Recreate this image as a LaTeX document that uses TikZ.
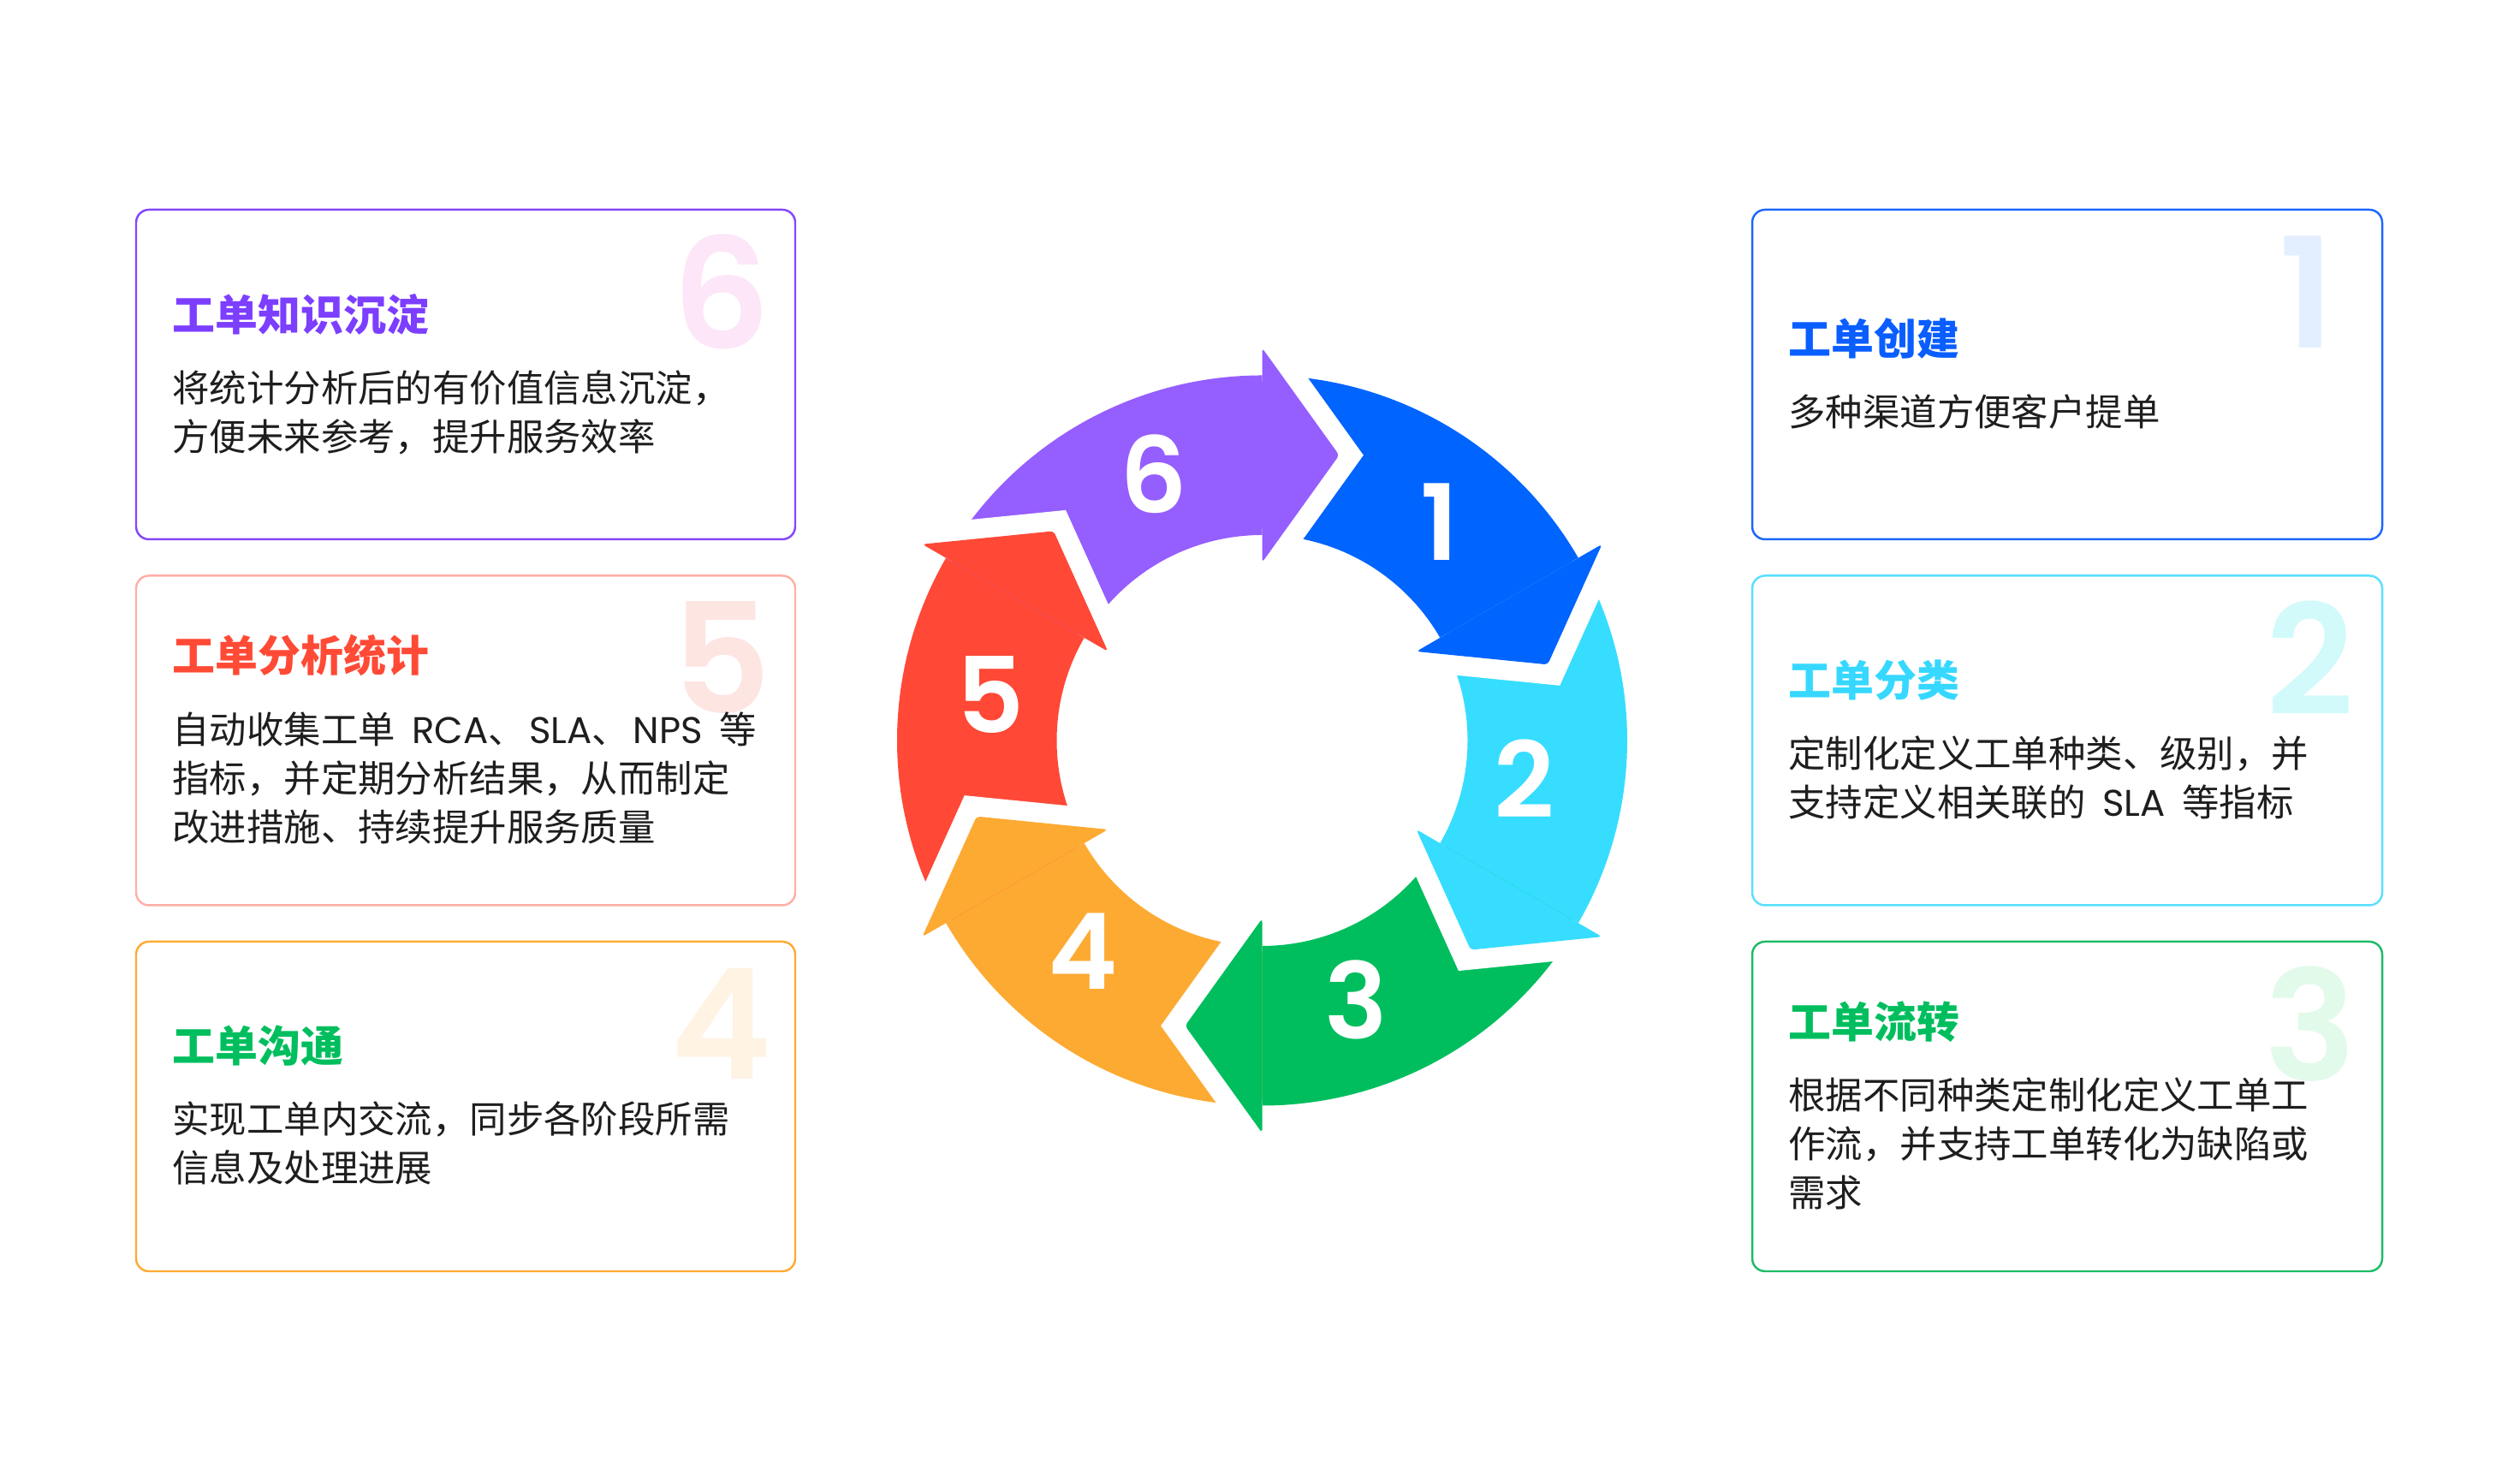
\documentclass[tikz,border=0pt]{standalone}
\usepackage{fontspec}
\setmainfont{Noto Sans CJK SC}
\newfontfamily\numfont{Poppins}[BoldFont=* SemiBold]
\newfontfamily\latinfont{Poppins}
\usetikzlibrary{positioning}

% cores do anel
\definecolor{ringblue}{HTML}{0064FF}
\definecolor{ringcyan}{HTML}{36DDFF}
\definecolor{ringgreen}{HTML}{00BE5E}
\definecolor{ringorange}{HTML}{FDAA33}
\definecolor{ringred}{HTML}{FF4836}
\definecolor{ringpurple}{HTML}{955EFF}
% cores das caixas
\definecolor{line1}{HTML}{1B67FF}
\definecolor{line2}{HTML}{5ADFFF}
\definecolor{line3}{HTML}{1DBB66}
\definecolor{line4}{HTML}{FFAA33}
\definecolor{line5}{HTML}{FFAFA6}
\definecolor{line6}{HTML}{8446FF}
\definecolor{title1}{HTML}{0A5EFF}
\definecolor{title2}{HTML}{36D8FF}
\definecolor{title3}{HTML}{00BE5E}
\definecolor{title5}{HTML}{FF4A36}
\definecolor{title6}{HTML}{7C3EFF}
\definecolor{fade1}{HTML}{E3EFFF}
\definecolor{fade2}{HTML}{D2FAFA}
\definecolor{fade3}{HTML}{E2FAEA}
\definecolor{fade4}{HTML}{FFF3E4}
\definecolor{fade5}{HTML}{FDE5E2}
\definecolor{fade6}{HTML}{FCE6F7}
\definecolor{bodytext}{HTML}{1E1E1E}

\newcommand{\lat}[1]{\hspace{0.45em}{\latinfont #1}}
\newcommand{\sep}{、\hspace{0.1em}}

\begin{document}
\begin{tikzpicture}
  [box/.style={draw, rounded corners=0.15cm, line width=0.7pt,
     minimum width=7.7cm, minimum height=3.85cm},
   head/.style={anchor=west, inner sep=0pt,
     font=\fontsize{14.2}{16.2}\selectfont\bfseries},
   info/.style={anchor=north west, align=left, inner sep=0pt, text=bodytext,
     font=\fontsize{12.35}{16.2}\selectfont},
   bignum/.style={inner sep=0pt, font=\numfont\bfseries\fontsize{51}{51}\selectfont},
   ringnum/.style={inner sep=0pt, text=white,
     font=\numfont\bfseries\fontsize{35}{35}\selectfont}]

  \useasboundingbox (0,0) rectangle (29.44,17.30);

  % Anel central: corpos das setas
  \coordinate (c) at (14.745,8.65);
  \foreach \a/\col in {30/ringblue, -30/ringcyan, -90/ringgreen,
      -150/ringorange, 150/ringred, 90/ringpurple} {
    \fill[\col, shift={(c)}, rotate=\a] (-1:2.40) -- (-1:4.265)
      arc[start angle=-1, end angle=60, radius=4.265] -- (60:2.40)
      arc[start angle=60, end angle=-1, radius=2.40] -- cycle;
  }

  % Anel central: pontas das setas e numeros
  \foreach \a/\col/\la/\lr [count=\i] in {30/ringblue/50.6/3.27,
      -30/ringcyan/-8.9/3.10, -90/ringgreen/-70.2/3.25,
      -150/ringorange/-130/3.25, 150/ringred/171/3.21, 90/ringpurple/112.4/3.33} {
    \begin{scope}[shift={(c)}, rotate=\a]
      \clip (-6,0) rectangle (6,-6);
      \draw[white, line width=0.46cm, line join=miter]
        (2.08,0) -- (3.3325,-0.90) -- (4.585,0);
      \fill[\col, rounded corners=0.04cm]
        (2.08,0) -- (3.3325,-0.90) -- (4.585,0) -- cycle;
    \end{scope}
    \node[ringnum] (n\i) at ([shift={(\la:\lr)}, yshift=0.03cm]c) {\i};
  }

  % Caixas da esquerda
  \node[box, draw=line6] (box6) at (5.44,12.925) {};
  \node[box, draw=line5] (box5) at (5.44,8.65) {};
  \node[box, draw=line4] (box4) at (5.44,4.375) {};

  % Caixas da direita
  \node[box, draw=line1, minimum width=7.36cm] (box1) at (24.15,12.925) {};
  \node[box, draw=line2, minimum width=7.36cm] (box2) at (24.15,8.65) {};
  \node[box, draw=line3, minimum width=7.36cm] (box3) at (24.15,4.375) {};

  % Numeros de fundo
  \node[bignum, text=fade6] (big6) at ([xshift=-0.87cm, yshift=-0.97cm]box6.north east) {6};
  \node[bignum, text=fade5] (big5) at ([xshift=-0.87cm, yshift=-0.97cm]box5.north east) {5};
  \node[bignum, text=fade4] (big4) at ([xshift=-0.87cm, yshift=-0.97cm]box4.north east) {4};
  \node[bignum, text=fade1] (big1) at ([xshift=-0.89cm, yshift=-0.97cm]box1.north east) {1};
  \node[bignum, text=fade2] (big2) at ([xshift=-0.85cm, yshift=-0.97cm]box2.north east) {2};
  \node[bignum, text=fade3] (big3) at ([xshift=-0.85cm, yshift=-0.97cm]box3.north east) {3};

  % Titulos
  \node[head, text=title6] (head6) at ([xshift=0.43cm, yshift=0.705cm]box6.west) {工单知识沉淀};
  \node[head, text=title5] (head5) at ([xshift=0.43cm, yshift=0.99cm]box5.west) {工单分析统计};
  \node[head, text=title3] (head4) at ([xshift=0.43cm, yshift=0.705cm]box4.west) {工单沟通};
  \node[head, text=title1] (head1) at ([xshift=0.43cm, yshift=0.42cm]box1.west) {工单创建};
  \node[head, text=title2] (head2) at ([xshift=0.43cm, yshift=0.705cm]box2.west) {工单分类};
  \node[head, text=title3] (head3) at ([xshift=0.43cm, yshift=0.99cm]box3.west) {工单流转};

  % Textos da esquerda
  \node[info, below=0.4cm of head6.south west, anchor=north west] (txt6)
    {将统计分析后的有价值信息沉淀，\\方便未来参考，提升服务效率};
  \node[info, below=0.4cm of head5.south west, anchor=north west] (txt5)
    {自动收集工单\lat{RCA}\sep{\latinfont SLA}\sep{\latinfont NPS}\hspace{0.45em}等\\指标，并定期分析结果，从而制定\\改进措施、持续提升服务质量};
  \node[info, below=0.4cm of head4.south west, anchor=north west] (txt4)
    {实现工单内交流，同步各阶段所需\\信息及处理进展};

  % Textos da direita
  \node[info, below=0.4cm of head1.south west, anchor=north west] (txt1)
    {多种渠道方便客户提单};
  \node[info, below=0.4cm of head2.south west, anchor=north west] (txt2)
    {定制化定义工单种类、级别，并\\支持定义相关联的\lat{SLA}\hspace{0.45em}等指标};
  \node[info, below=0.4cm of head3.south west, anchor=north west] (txt3)
    {根据不同种类定制化定义工单工\\作流，并支持工单转化为缺陷或\\需求};
\end{tikzpicture}
\end{document}
